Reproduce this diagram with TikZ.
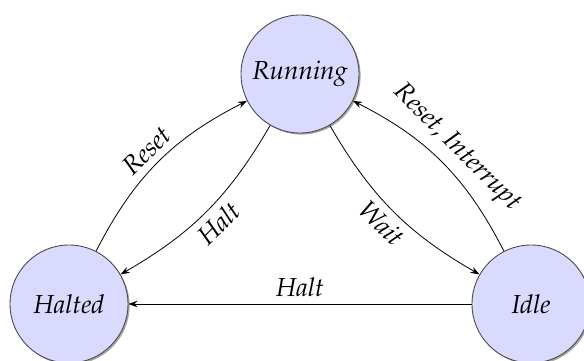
\documentclass[tikz,border=0pt]{standalone}
\usepackage[T1]{fontenc}
\usepackage{mathpazo}
\usetikzlibrary{arrows.meta,shadows}
\definecolor{statefill}{RGB}{218,218,255}
\begin{document}
\begin{tikzpicture}[x=1pt,y=1pt,
  state/.style={circle, draw=black!70, line width=0.9pt, fill=statefill,
    minimum size=118pt, inner sep=0pt,
    font=\fontsize{26}{31}\selectfont\itshape,
    drop shadow={shadow xshift=1.6pt, shadow yshift=-1.6pt, fill=black, opacity=0.35}},
  trans/.style={-{Stealth[length=9pt,width=6.5pt]}, line width=0.8pt},
  lbl/.style={font=\fontsize{26}{31}\selectfont\itshape, sloped, inner sep=7pt}]
  \useasboundingbox (0,0) rectangle (584,361);

  % the three states
  \node[state] (run)  at (300,287) {Running};
  \node[state] (halt) at (69,57)   {Halted};
  \node[state] (idle) at (531,57)  {Idle};

  % transitions
  \draw[trans] (halt) to[bend left=18]  node[lbl,above] {Reset} (run);
  \draw[trans] (run)  to[bend left=15]  node[lbl,below] {Halt} (halt);
  \draw[trans] (run)  to[bend right=15] node[lbl,below] {Wait} (idle);
  \draw[trans] (idle) to[bend right=18] node[lbl,above] {Reset, Interrupt} (run);
  \draw[trans] (idle) -- node[lbl,above] {Halt} (halt);
\end{tikzpicture}
\end{document}
